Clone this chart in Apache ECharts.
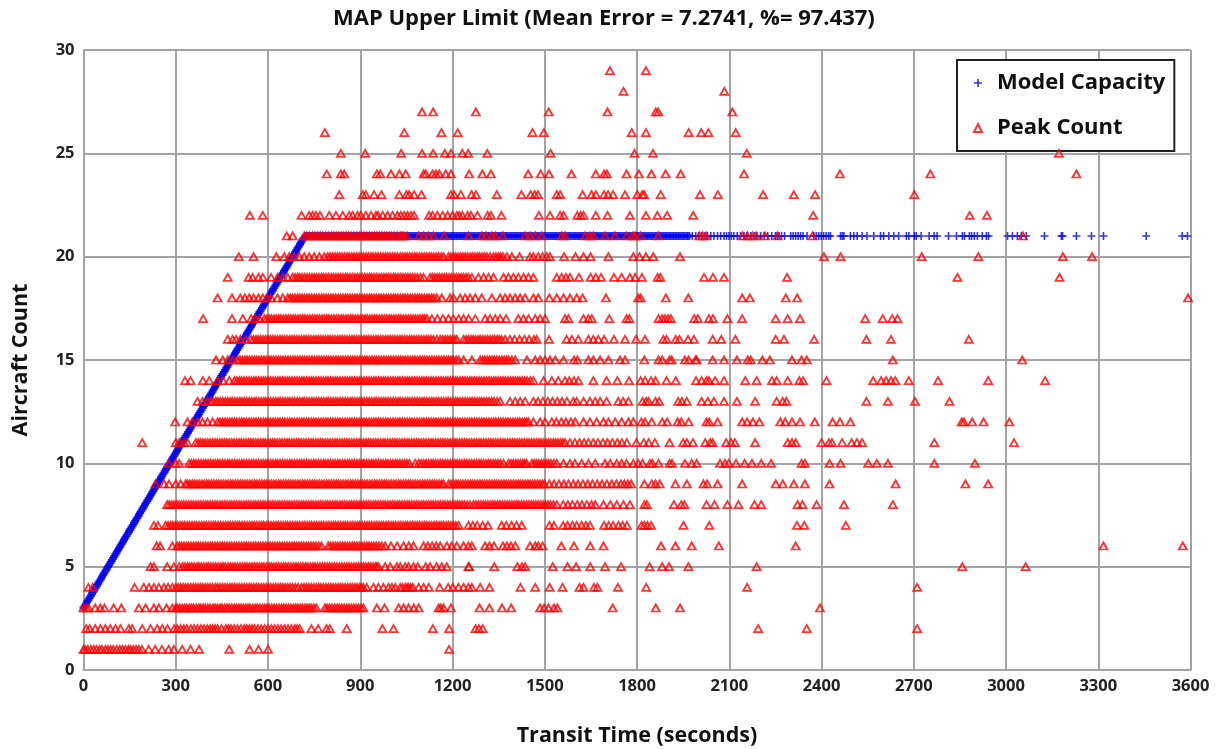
<!DOCTYPE html>
<html><head><meta charset="utf-8">
<script src="https://cdn.jsdelivr.net/npm/echarts@6/dist/echarts.min.js"></script>
<style>html,body{margin:0;padding:0;background:#fff}#c{width:1220px;height:749px}</style>
</head><body><div id="c"></div>
<script>
const chartTitle = "MAP Upper Limit (Mean Error = 7.2741, %= 97.437)";
const xName = "Transit Time (seconds)";
const yName = "Aircraft Count";

// Model Capacity: rising part (time, count), then the flat part at 21
const modelRiseX = [0,4,8,12,16,20,24,28,32,36,40,44,48,52,56,60,64,68,72,76,80,84,88,92,96,100,104,108,112,116,120,124,128,132,136,140,144,148,152,156,160,164,168,172,176,180,184,188,192,196,200,204,208,212,216,220,224,228,232,236,240,244,248,252,256,260,264,268,272,276,280,284,288,292,296,300,304,308,312,316,320,324,328,332,336,340,344,348,352,356,360,364,368,372,376,380,384,388,392,396,400,404,408,412,416,420,424,428,432,436,440,444,448,452,456,460,464,468,472,476,480,484,488,492,496,500,504,508,512,516,520,524,528,532,536,540,544,548,552,556,560,564,568,572,576,580,584,588,592,596,600,604,608,612,616,620,624,628,632,636,640,644,648,652,656,660,664,668,672,676,680,684,688,692,696,700,704,708,712,716];
const modelRiseY = [3,3.1,3.2,3.3,3.4,3.5,3.6,3.7,3.8,3.9,4,4.1,4.2,4.3,4.4,4.5,4.6,4.7,4.8,4.9,5,5.1,5.2,5.3,5.4,5.5,5.6,5.7,5.8,5.9,6,6.1,6.2,6.3,6.4,6.5,6.6,6.7,6.8,6.9,7,7.1,7.2,7.3,7.4,7.5,7.6,7.7,7.8,7.9,8,8.1,8.2,8.3,8.4,8.5,8.6,8.7,8.8,8.9,9,9.1,9.2,9.3,9.4,9.5,9.6,9.7,9.8,9.9,10,10.1,10.2,10.3,10.4,10.5,10.6,10.7,10.8,10.9,11,11.1,11.2,11.3,11.4,11.5,11.6,11.7,11.8,11.9,12,12.1,12.2,12.3,12.4,12.5,12.6,12.7,12.8,12.9,13,13.1,13.2,13.3,13.4,13.5,13.6,13.7,13.8,13.9,14,14.1,14.2,14.3,14.4,14.5,14.6,14.7,14.8,14.9,15,15.1,15.2,15.3,15.4,15.5,15.6,15.7,15.8,15.9,16,16.1,16.2,16.3,16.4,16.5,16.6,16.7,16.8,16.9,17,17.1,17.2,17.3,17.4,17.5,17.6,17.7,17.8,17.9,18,18.1,18.2,18.3,18.4,18.5,18.6,18.7,18.8,18.9,19,19.1,19.2,19.3,19.4,19.5,19.6,19.7,19.8,19.9,20,20.1,20.2,20.3,20.4,20.5,20.6,20.7,20.8,20.9];
const modelFlatY = 21;
const modelFlatX = [722,730,738,746,754,762,770,778,786,794,802,810,818,826,834,842,850,858,866,874,882,890,898,906,914,922,930,938,946,954,962,970,978,986,994,1002,1010,1018,1026,1034,1042,1050,1058,1066,1074,1082,1090,1098,1106,1114,1122,1130,1138,1146,1154,1162,1170,1178,1186,1194,1202,1210,1218,1226,1234,1242,1250,1258,1266,1274,1282,1290,1298,1306,1314,1322,1330,1338,1346,1354,1362,1370,1378,1386,1394,1402,1410,1418,1426,1434,1442,1450,1458,1466,1474,1482,1490,1498,1506,1514,1522,1530,1538,1546,1554,1562,1570,1578,1586,1594,1602,1610,1618,1626,1634,1642,1650,1658,1666,1674,1682,1690,1698,1706,1714,1722,1730,1738,1746,1754,1762,1770,1778,1786,1794,1802,1810,1818,1826,1834,1842,1850,1858,1866,1874,1882,1890,1898,1906,1914,1922,1930,1938,1946,1954,1962,1969,1980,1991,2000,2010,2021,2029,2040,2050,2062,2072,2083,2091,2099,2107,2115,2126,2137,2148,2158,2170,2182,2190,2202,2214,2225,2238,2250,2256,2262,2270,2280,2300,2308,2316,2324,2332,2340,2353,2375,2383,2391,2399,2407,2415,2423,2429,2462,2468,2473,2494,2505,2516,2532,2548,2570,2592,2602,2619,2635,2651,2676,2684,2702,2708,2724,2750,2766,2776,2813,2839,2858,2865,2881,2888,2897,2907,2923,2936,2943,3005,3021,3037,3050,3066,3125,3180,3184,3229,3278,3317,3456,3573,3590];

// Peak Count: one list of transit times per aircraft count
const peakCounts = [1,2,3,4,5,6,7,8,9,10,11,12,13,14,15,16,17,18,19,20,21,22,23,24,25,26,27,28,29];
const peak1 = [0,5,14,24,33,42,52,60,71,79,88,97,108,118,127,136,146,153,162,171,180,190,212,233,255,277,294,321,348,376,474,540,569,600,1189];
const peak2 = [9,20,38,55,71,87,104,120,147,158,191,218,240,256,273,295,305,316,326,336,349,360,371,382,392,403,412,420,428,436,449,463,471,480,490,501,512,523,531,540,548,556,567,578,589,600,611,622,632,643,654,665,676,687,695,703,741,763,790,801,856,972,1008,1136,1189,1275,1286,1298,2194,2352,2711];
const peak3 = [0,9,16,38,55,68,98,123,180,202,229,245,270,289,300,313,329,344,358,375,389,404,421,436,450,467,482,497,512,528,541,558,573,590,604,620,636,651,667,683,697,712,727,741,757,785,800,817,832,848,863,879,895,910,954,979,1025,1041,1057,1074,1090,1155,1162,1171,1195,1288,1320,1361,1391,1485,1498,1512,1530,1541,1721,1861,1940,2395];
const peak4 = [16,30,166,196,213,229,245,262,275,289,300,316,332,349,365,381,396,412,429,444,460,476,491,507,523,539,554,570,586,601,617,633,648,664,680,698,709,725,741,757,772,788,804,820,835,851,867,883,898,910,921,943,959,975,992,1003,1014,1030,1046,1057,1071,1090,1106,1123,1158,1186,1201,1219,1236,1252,1263,1290,1320,1421,1469,1516,1558,1613,1626,1660,1671,1738,1830,2158,2711];
const peak5 = [218,229,272,294,311,322,338,352,369,383,399,414,430,447,461,478,493,509,525,540,556,572,587,604,619,635,651,666,683,698,714,729,746,761,777,793,808,824,840,856,871,887,903,918,934,950,959,981,997,1019,1030,1046,1057,1073,1087,1113,1127,1148,1165,1181,1252,1254,1336,1411,1426,1436,1526,1574,1602,1648,1696,1748,1841,1882,1904,1967,2189,2858,3064];
const peak6 = [238,249,289,305,319,335,350,366,381,397,413,428,444,459,475,490,506,522,537,553,568,584,600,615,631,646,662,678,693,709,724,740,756,774,796,811,827,843,858,874,889,905,921,936,952,970,981,1000,1020,1041,1058,1073,1106,1120,1134,1147,1160,1182,1198,1214,1236,1252,1263,1306,1320,1335,1364,1377,1390,1404,1452,1469,1479,1493,1554,1595,1648,1691,1878,1925,1978,2066,2316,3317,3575];
const peak7 = [229,242,267,283,298,314,329,345,361,376,392,407,423,438,454,470,485,501,516,532,548,563,579,594,610,626,641,657,672,688,703,719,735,750,766,781,797,813,828,844,859,875,891,906,922,937,953,969,984,1000,1015,1031,1047,1062,1078,1093,1109,1124,1140,1156,1171,1187,1203,1220,1252,1266,1280,1298,1315,1360,1375,1392,1408,1425,1515,1530,1560,1574,1590,1604,1620,1634,1647,1693,1708,1722,1740,1753,1767,1815,1824,1834,1846,1951,2035,2320,2344,2479];
const peak8 = [272,287,303,319,334,350,365,381,397,412,428,443,459,475,490,506,521,537,553,568,584,599,615,631,646,662,677,693,709,724,740,755,771,787,802,818,833,849,865,880,896,911,927,943,958,974,989,1005,1021,1036,1052,1067,1083,1099,1114,1130,1145,1161,1176,1192,1208,1223,1239,1257,1268,1284,1300,1315,1331,1346,1362,1378,1393,1409,1424,1440,1456,1471,1487,1502,1518,1539,1560,1575,1590,1606,1621,1637,1652,1664,1691,1713,1734,1756,1777,1824,1832,1920,1944,1954,2026,2052,2094,2130,2182,2204,2322,2338,2384,2473,2632];
const peak9 = [234,262,278,300,316,332,338,354,369,385,401,416,432,447,463,479,494,510,525,541,557,572,588,603,619,635,650,666,681,697,713,728,744,759,775,791,806,822,837,853,869,884,900,915,931,947,962,978,993,1009,1025,1040,1056,1071,1087,1103,1118,1134,1149,1165,1171,1187,1203,1218,1234,1250,1265,1281,1296,1312,1328,1343,1359,1374,1390,1406,1421,1437,1452,1468,1484,1499,1515,1530,1546,1562,1577,1593,1608,1624,1640,1655,1671,1686,1702,1718,1733,1748,1759,1770,1781,1824,1848,1860,1874,1925,1962,2016,2028,2062,2142,2251,2274,2310,2346,2426,2641,2868,2942];
const peak10 = [278,300,311,343,359,374,390,405,421,437,452,468,483,499,515,530,546,561,577,593,608,624,639,655,671,686,702,717,733,749,764,780,795,811,827,842,858,873,889,905,920,936,951,967,983,998,1014,1029,1045,1060,1079,1090,1106,1122,1137,1153,1168,1184,1200,1215,1231,1246,1262,1278,1293,1309,1324,1340,1356,1366,1382,1398,1413,1429,1441,1458,1474,1489,1505,1520,1539,1561,1582,1598,1620,1642,1664,1696,1713,1734,1750,1766,1788,1804,1818,1842,1850,1870,1906,1914,1956,1978,1994,2070,2086,2098,2122,2150,2174,2204,2236,2335,2346,2426,2462,2552,2580,2616,2767,2899];
const peak11 = [191,300,311,327,338,365,381,396,412,428,443,459,474,490,506,521,537,552,568,584,599,615,630,646,662,677,693,708,724,740,755,771,786,802,818,833,849,864,880,896,911,927,942,958,974,989,1005,1020,1036,1052,1067,1083,1098,1114,1130,1145,1161,1176,1192,1208,1223,1239,1254,1270,1286,1301,1317,1332,1348,1364,1379,1395,1410,1426,1442,1457,1473,1488,1504,1520,1535,1551,1566,1582,1598,1613,1628,1642,1658,1673,1689,1704,1720,1736,1751,1767,1798,1822,1838,1858,1906,1950,1962,1982,2022,2038,2046,2090,2106,2118,2184,2290,2304,2316,2400,2424,2434,2467,2498,2515,2532,2767,3026];
const peak12 = [298,338,354,371,387,403,420,436,452,468,483,499,515,530,546,561,577,593,608,624,639,655,671,686,702,717,733,749,764,780,795,811,827,842,858,873,889,905,920,936,951,967,983,998,1014,1029,1045,1061,1076,1092,1107,1123,1139,1154,1170,1185,1201,1217,1232,1248,1263,1279,1295,1310,1326,1341,1357,1373,1388,1404,1419,1435,1447,1463,1485,1501,1523,1538,1554,1569,1585,1599,1626,1647,1669,1691,1707,1729,1750,1772,1788,1814,1826,1848,1882,1898,1932,1944,1968,2026,2035,2062,2142,2158,2177,2198,2266,2282,2304,2330,2378,2436,2460,2494,2856,2863,2890,2927,3011];
const peak13 = [371,387,403,414,430,445,461,477,492,508,523,539,555,570,586,601,617,633,648,664,679,695,711,726,742,757,773,789,804,820,835,851,867,882,898,913,929,945,960,976,991,1007,1023,1038,1054,1069,1085,1101,1116,1132,1147,1163,1179,1194,1210,1225,1241,1257,1272,1288,1303,1319,1335,1355,1387,1404,1420,1436,1463,1478,1494,1510,1525,1541,1556,1572,1593,1604,1626,1647,1664,1680,1701,1739,1755,1772,1818,1830,1838,1860,1872,1934,1946,1962,2010,2030,2050,2083,2125,2184,2254,2274,2286,2546,2616,2704,2816];
const peak14 = [330,348,388,409,436,453,474,491,507,522,538,554,569,585,600,616,632,647,663,678,694,710,725,741,756,772,788,803,819,834,850,866,881,897,912,928,944,959,975,990,1006,1022,1037,1053,1068,1084,1100,1115,1131,1146,1162,1178,1193,1209,1224,1240,1256,1271,1287,1302,1318,1334,1349,1365,1380,1396,1412,1427,1443,1463,1496,1523,1544,1566,1580,1595,1609,1658,1701,1736,1774,1812,1826,1846,1860,1896,1926,1992,2010,2026,2034,2054,2083,2152,2189,2239,2254,2290,2328,2340,2416,2568,2594,2610,2626,2640,2684,2779,2942,3127];
const peak15 = [431,453,469,485,501,517,532,548,563,579,595,610,626,641,657,673,688,704,719,735,751,766,782,797,813,829,844,860,875,891,907,922,938,953,969,985,1000,1016,1031,1047,1063,1078,1094,1109,1125,1141,1156,1172,1187,1203,1220,1236,1263,1290,1305,1321,1336,1352,1368,1383,1404,1442,1469,1485,1501,1517,1534,1561,1595,1606,1642,1658,1680,1707,1745,1761,1824,1870,1882,1906,1913,1956,1968,1990,1994,2046,2083,2125,2160,2170,2208,2232,2304,2335,2352,2632,3053];
const peak16 = [469,485,496,510,528,545,561,576,592,607,623,639,654,670,685,701,717,732,748,763,779,795,810,826,841,857,873,888,904,919,935,951,966,982,997,1013,1029,1044,1060,1075,1091,1107,1122,1138,1160,1176,1192,1207,1214,1236,1252,1267,1283,1298,1314,1330,1345,1360,1371,1387,1402,1418,1434,1449,1465,1474,1514,1571,1588,1609,1642,1658,1674,1693,1725,1761,1797,1826,1886,1896,1926,1938,1966,1985,2046,2074,2120,2251,2278,2376,2546,2626,2879];
const peak17 = [389,483,518,545,558,572,588,604,619,635,650,666,682,697,713,728,744,760,775,791,806,822,838,853,869,884,900,916,931,947,962,978,994,1009,1025,1040,1056,1072,1087,1103,1117,1133,1151,1169,1187,1203,1220,1236,1252,1274,1306,1322,1339,1355,1374,1414,1431,1447,1469,1485,1501,1566,1577,1626,1642,1653,1710,1766,1775,1870,1882,1891,1901,1910,1986,1998,2034,2047,2094,2142,2251,2290,2330,2542,2599,2630,2647];
const peak18 = [436,483,510,525,539,553,569,583,597,610,631,648,664,680,696,711,727,742,758,774,789,805,820,836,852,867,883,898,914,930,945,961,976,992,1008,1023,1039,1054,1070,1086,1101,1117,1132,1149,1165,1192,1203,1225,1241,1257,1274,1295,1328,1355,1371,1387,1404,1420,1436,1463,1479,1515,1539,1561,1582,1604,1623,1699,1804,1812,1894,1967,2142,2167,2284,2321,3592];
const peak19 = [469,537,550,569,583,610,631,648,664,680,696,711,727,743,758,774,789,805,821,836,852,867,883,899,914,930,945,961,977,992,1008,1023,1039,1055,1070,1086,1106,1127,1143,1158,1174,1189,1205,1221,1236,1252,1263,1284,1301,1317,1333,1366,1382,1398,1414,1431,1447,1463,1539,1555,1569,1582,1611,1649,1666,1683,1725,1750,1777,1794,1816,1867,1876,2018,2047,2083,2288,2842,3174];
const peak20 = [505,553,627,653,669,685,702,718,734,750,767,783,794,810,826,841,857,872,888,904,919,935,950,966,982,997,1013,1030,1046,1061,1077,1092,1108,1124,1139,1155,1171,1187,1203,1218,1234,1249,1265,1281,1296,1312,1322,1333,1349,1364,1377,1393,1418,1452,1463,1479,1493,1506,1517,1563,1600,1626,1649,1707,1788,1808,1829,1853,1940,2408,2462,2726,2910,3185,3280];
const peak21 = [661,680,718,735,745,762,778,788,806,822,838,846,862,880,898,912,930,946,962,978,994,1010,1030,1042,1052,1090,1106,1122,1138,1173,1252,1295,1309,1328,1339,1364,1436,1452,1469,1490,1555,1566,1631,1647,1658,1696,1728,1766,1787,1794,1811,1869,2003,2014,2025,2143,2159,2176,2187,2216,2257,2371,3055];
const peak22 = [541,583,709,734,745,756,769,799,821,843,864,875,891,902,918,935,951,958,973,989,1005,1021,1032,1043,1054,1065,1075,1124,1135,1151,1168,1184,1200,1214,1222,1232,1249,1260,1281,1314,1325,1359,1481,1517,1550,1561,1606,1617,1626,1666,1704,1777,1829,1866,1898,1983,2373,2882,2938];
const peak23 = [832,908,918,945,969,1027,1050,1059,1075,1099,1195,1205,1227,1262,1276,1344,1424,1454,1467,1478,1539,1550,1623,1652,1666,1693,1706,1722,1761,1801,1817,1823,1877,2005,2063,2210,2310,2379,2702];
const peak24 = [791,837,848,954,965,1000,1027,1048,1106,1113,1135,1146,1157,1178,1195,1254,1297,1325,1446,1487,1514,1587,1666,1693,1702,1766,1806,1847,1893,1942,2148,2460,2754,3229];
const peak25 = [837,916,1033,1101,1137,1175,1195,1232,1251,1313,1519,1792,1852,2157,3172];
const peak26 = [785,1043,1164,1217,1460,1497,1783,1829,1968,2009,2032,2121];
const peak27 = [1101,1137,1276,1513,1704,1861,1869,2110];
const peak28 = [1756,2084];
const peak29 = [1712,1829];
// further marks inside the solid bands of the counts 3 to 21
const band3 = [305,321,336,351,367,382,396,412,428,444,459,474,490,505,520,535,550,565,582,597,612,628,644,659,675,690,705,720,734,749,792,808,825,840,856,871,887,903];
const band4 = [308,324,340,357,373,388,404,420,436,452,468,483,499,515,531,546,562,578,594,609,625,641,656,672,689,717,733,749,765,780,796,812,828,843,859,875,890,904,1037,1052,1064];
const band5 = [330,345,360,376,391,406,422,438,454,470,486,501,517,532,548,564,580,596,611,627,643,658,675,691,706,722,738,753,769,785,800,816,832,848,863,879,895,910,926,942,954];
const band6 = [312,327,342,358,373,389,405,420,436,451,467,482,498,514,529,545,560,576,592,607,623,638,654,670,685,701,716,732,748,765,803,819,835,850,866,881,897,913,928,944,961];
const band7 = [275,290,306,321,337,353,368,384,399,415,430,446,462,477,493,508,524,540,555,571,586,602,618,633,649,664,680,695,711,727,742,758,773,789,805,820,836,851,867,883,898,914,929,945,961,976,992,1007,1023,1039,1054,1070,1085,1101,1116,1132,1148,1163,1179,1195,1211];
const band8 = [279,295,311,326,342,357,373,389,404,420,435,451,467,482,498,513,529,545,560,576,591,607,623,638,654,669,685,701,716,732,747,763,779,794,810,825,841,857,872,888,903,919,935,950,966,981,997,1013,1028,1044,1059,1075,1091,1106,1122,1137,1153,1169,1184,1200,1216,1231,1248,1276,1292,1307,1323,1338,1354,1370,1385,1401,1416,1432,1448,1463,1479,1495,1510,1528];
const band9 = [346,361,377,393,408,424,439,455,471,486,502,517,533,549,564,580,595,611,627,642,658,673,689,705,720,736,751,767,783,798,814,829,845,861,876,892,907,923,939,954,970,985,1001,1017,1032,1048,1063,1079,1095,1110,1126,1141,1157,1195,1211,1226,1242,1258,1273,1289,1304,1320,1336,1351,1367,1382,1398,1414,1429,1445,1460,1476,1492];
const band10 = [351,366,382,397,413,429,444,460,475,491,507,522,538,553,569,585,600,616,631,647,663,678,694,709,725,741,756,772,787,803,819,834,850,865,881,897,912,928,943,959,975,990,1006,1021,1037,1052,1098,1114,1130,1145,1161,1176,1192,1208,1223,1239,1254,1270,1286,1301,1317,1332,1348,1390,1406,1421,1435,1466,1481,1497,1512,1530];
const band11 = [373,388,404,420,435,451,466,482,498,513,529,544,560,576,591,607,622,638,654,669,685,700,716,732,747,763,778,794,810,825,841,856,872,888,903,919,934,950,966,981,997,1012,1028,1044,1059,1075,1090,1106,1122,1137,1153,1168,1184,1200,1215,1231,1246,1262,1278,1293,1309,1324,1340,1356,1371,1387,1402,1418,1434,1449,1465,1481,1496,1512,1528,1543,1559];
const band12 = [444,460,476,491,507,522,538,554,569,585,600,616,632,647,663,678,694,710,725,741,756,772,788,803,819,834,850,866,881,897,912,928,944,959,975,990,1006,1022,1037,1053,1068,1084,1100,1115,1131,1146,1162,1178,1193,1209,1224,1240,1256,1271,1287,1302,1318,1334,1349,1365,1380,1396,1412,1427,1441];
const band13 = [422,437,453,469,484,500,515,531,547,562,578,593,609,625,640,656,671,687,703,718,734,749,765,781,796,812,827,843,859,874,890,905,921,937,952,968,983,999,1015,1030,1046,1061,1077,1093,1108,1124,1139,1155,1171,1186,1202,1217,1233,1249,1264,1280,1295,1311,1327,1345];
const band14 = [499,514,530,546,561,577,592,608,624,639,655,670,686,702,717,733,748,764,780,795,811,826,842,858,873,889,904,920,936,951,967,982,998,1014,1029,1045,1060,1076,1092,1107,1123,1138,1154,1170,1185,1201,1216,1232,1248,1263,1279,1294,1310,1326,1341,1357,1372,1388,1404,1419,1435,1453];
const band15 = [509,525,540,556,571,587,603,618,634,649,665,681,696,712,727,743,759,774,790,805,821,837,852,868,883,899,915,930,946,961,977,993,1008,1024,1039,1055,1071,1086,1102,1117,1133,1149,1164,1180,1195,1212,1298,1313,1329,1344,1360,1376,1393];
const band16 = [553,568,584,600,615,631,646,662,678,693,709,724,740,756,771,787,802,818,834,849,865,880,896,912,927,943,958,974,990,1005,1021,1036,1052,1067,1083,1099,1115,1130,1149,1168,1184,1200,1244,1260,1275,1290,1306,1322,1337,1352];
const band17 = [596,611,627,642,658,674,689,705,720,736,752,767,783,798,814,830,845,861,876,892,908,923,939,954,970,986,1001,1017,1032,1048,1064,1079,1095,1110];
const band18 = [672,688,703,719,734,750,766,781,797,812,828,844,859,875,890,906,922,937,953,968,984,1000,1015,1031,1046,1062,1078,1093,1109,1124,1140];
const band19 = [688,703,719,735,750,766,781,797,813,828,844,859,875,891,906,922,937,953,969,984,1000,1015,1031,1047,1062,1078,1096,1135,1151,1166,1181,1197,1213,1228,1244];
const band20 = [802,818,833,849,864,880,896,911,927,942,958,974,989,1005,1021,1038,1053,1069,1084,1100,1116,1131,1147,1163,1195,1210,1226,1241,1257,1273,1288,1304,1341,1356];
const band21 = [726,753,770,796,814,830,854,870,889,905,921,938,954,970,986,1002,1020,1036];

const peakTimes = [peak1,peak2,peak3.concat(band3),peak4.concat(band4),peak5.concat(band5),peak6.concat(band6),peak7.concat(band7),peak8.concat(band8),peak9.concat(band9),peak10.concat(band10),peak11.concat(band11),peak12.concat(band12),peak13.concat(band13),peak14.concat(band14),peak15.concat(band15),peak16.concat(band16),peak17.concat(band17),peak18.concat(band18),peak19.concat(band19),peak20.concat(band20),peak21.concat(band21),peak22,peak23,peak24,peak25,peak26,peak27,peak28,peak29];

const modelData = modelRiseX.map((x,i)=>[x,modelRiseY[i]]).concat(modelFlatX.map(x=>[x,modelFlatY]));
const peakData = [];
peakTimes.forEach((xs,i)=>xs.forEach(x=>peakData.push([x,peakCounts[i]])));

const FONT = '"Open Sans"';
const GRID = '#a3a3a3';
const plusThin = 'path://M4,0H6V4H10V6H6V10H4V6H0V4H4Z';
const plusThick = 'path://M3.2,0H6.8V3.2H10V6.8H6.8V10H3.2V6.8H0V3.2H3.2Z';
const chart = echarts.init(document.getElementById('c'),null,{renderer:'canvas'});
chart.setOption({
  animation:false,
  backgroundColor:'#fff',
  title:{text:chartTitle,left:328,top:3,textStyle:{fontFamily:FONT,fontWeight:'bold',fontSize:22,color:'#111'}},
  grid:{left:83.5,right:29.5,top:50,bottom:79,containLabel:false,outerBoundsMode:'none'},
  xAxis:{type:'value',min:0,max:3600,interval:300,name:xName,nameLocation:'middle',nameGap:55,
    nameTextStyle:{fontFamily:FONT,fontWeight:'bold',fontSize:21.5,color:'#111'},
    axisLine:{show:true,lineStyle:{color:GRID,width:2}},axisTick:{show:false},
    axisLabel:{fontFamily:FONT,fontWeight:'bold',fontSize:16.5,color:'#222',margin:8,showMinLabel:true,showMaxLabel:true,formatter:v=>String(v)},
    splitLine:{show:true,lineStyle:{color:GRID,width:2}}},
  yAxis:{type:'value',min:0,max:30,interval:5,name:yName,nameLocation:'middle',nameGap:52,
    nameTextStyle:{fontFamily:FONT,fontWeight:'bold',fontSize:21.5,color:'#111'},
    axisLine:{show:true,lineStyle:{color:GRID,width:2}},axisTick:{show:false},
    axisLabel:{fontFamily:FONT,fontWeight:'bold',fontSize:16.5,color:'#222',margin:9,formatter:v=>String(v)},
    splitLine:{show:true,lineStyle:{color:GRID,width:2}}},
  legend:{orient:'vertical',left:957,top:60,padding:[9,9,9,16],itemGap:17,itemWidth:8,itemHeight:8,
    backgroundColor:'#fff',borderColor:'#222',borderWidth:2,
    textStyle:{fontFamily:FONT,fontWeight:'bold',fontSize:22,color:'#111',padding:[0,0,0,10],lineHeight:28},
    data:[{name:'Model Capacity',icon:plusThin},{name:'Peak Count',icon:'triangle'}]},
  series:[
    {name:'Model Capacity',type:'scatter',symbol:v=>v[0]<1970?plusThick:plusThin,symbolSize:8,clip:false,data:modelData,
     itemStyle:{color:'#0000f0'},emphasis:{disabled:true},z:3},
    {name:'Peak Count',type:'scatter',symbol:'triangle',symbolSize:[8,7],clip:false,data:peakData,
     itemStyle:{color:'transparent',borderColor:'#ff0000',borderWidth:1.8},emphasis:{disabled:true},z:4}
  ]
});
</script></body></html>
